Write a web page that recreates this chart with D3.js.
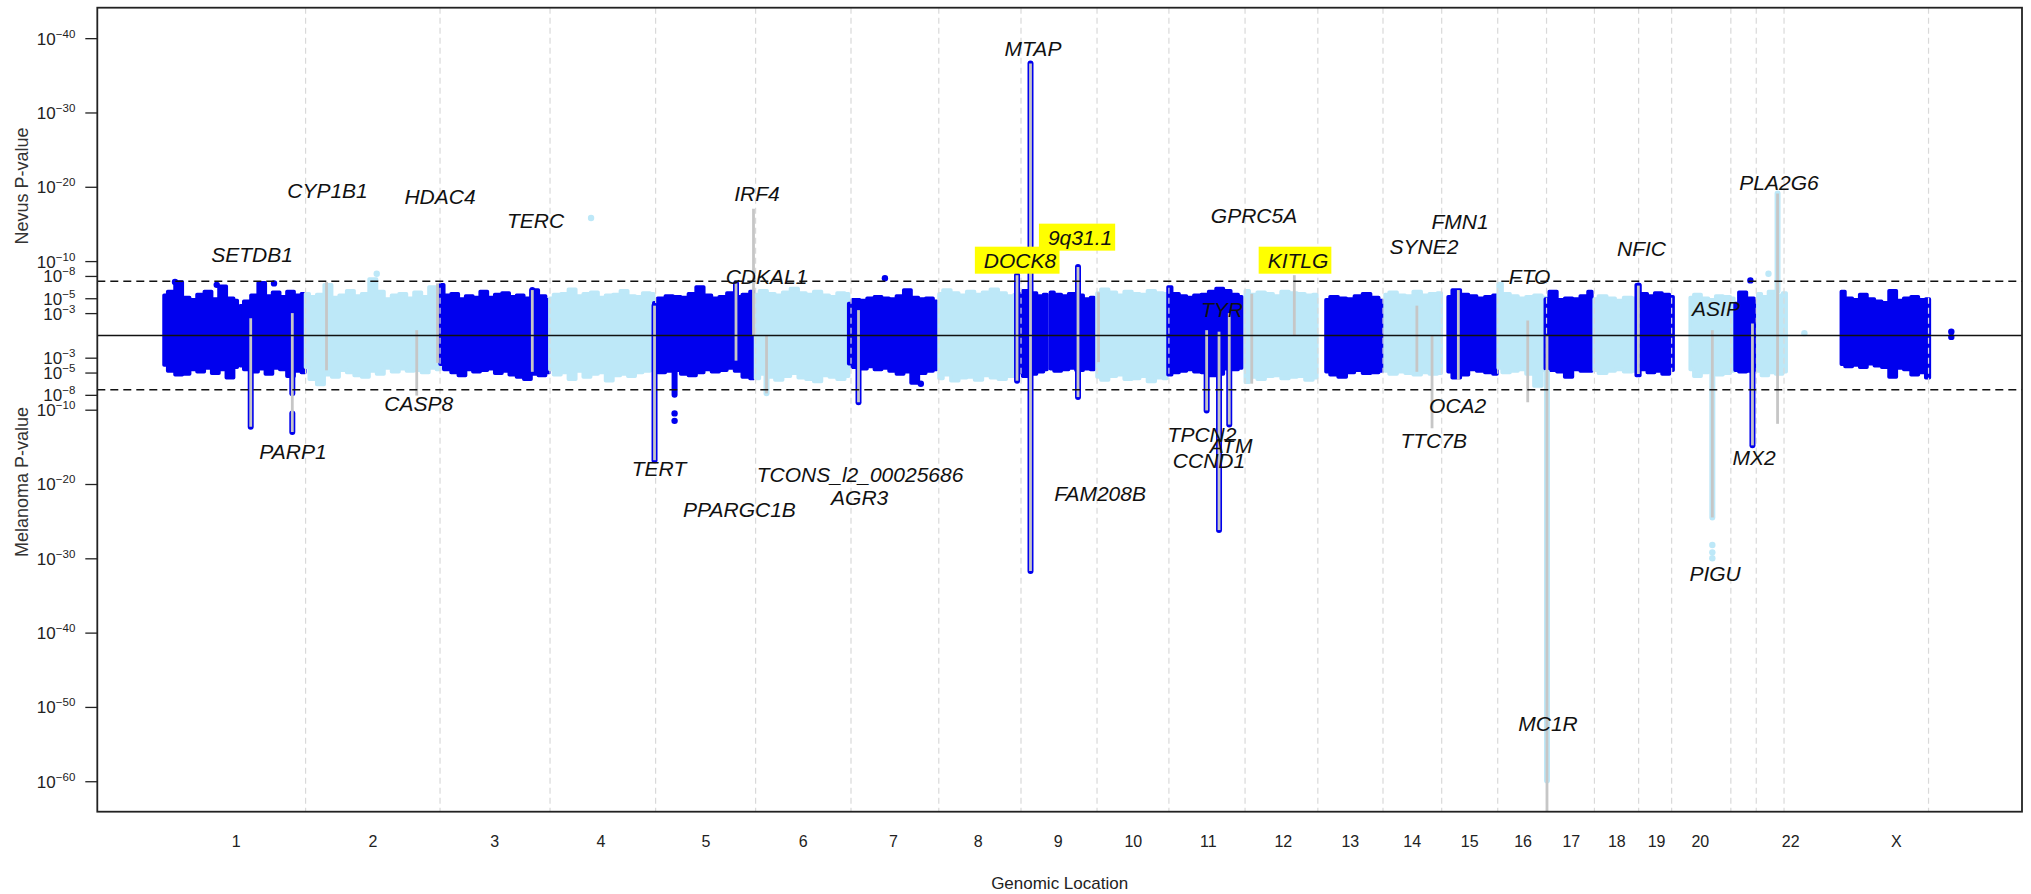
<!DOCTYPE html>
<html>
<head>
<meta charset="utf-8">
<script src="https://cdn.jsdelivr.net/npm/d3@7"></script>
<style>
  html, body { margin: 0; padding: 0; background: #fff; }
  svg { display: block; font-family: "Liberation Sans", Arial, Helvetica, sans-serif; }
</style>
</head>
<body>
<svg id="chart" width="2031" height="894"></svg>
<script>
// ---------------------------------------------------------------------------
// Miami plot: nevus GWAS (upward) against melanoma GWAS (downward).
// Positions are cumulative genomic coordinates (Mb), values are -log10(P);
// melanoma values are stored as negative numbers so they plot below zero.
// ---------------------------------------------------------------------------

// Chromosome axis labels and where they sit
const chromLabels   = ["1","2","3","4","5","6","7","8","9","10","11","12","13","14","15","16","17","18","19","20","22","X"];
const chromLabelPos = [126, 367, 581, 768, 953, 1124, 1283, 1432, 1573, 1705, 1837, 1969, 2087, 2196, 2297, 2391, 2476, 2556, 2626, 2703, 2862, 3048];

// Chromosome boundaries (dashed guides)
const chrBounds = [249.2, 485.8, 679.4, 865.2, 1041.2, 1209.1, 1363.6, 1508.3, 1642.1, 1768.6, 1902.6, 2030.7,
                   2145.4, 2248.7, 2347.3, 2433.2, 2517.5, 2595.3, 2653.4, 2757.6, 2802.3, 2851.2, 3105.5];

// SNP blocks per chromosome (span of genotyped markers)
const blockChr   = ["1","1","2","3","4","5","6","7","8","9","9","10","11","12","13","14","15","16","17","18","19","20","21","22","X"];
const blockStart = [0, 134, 249, 486, 679, 862, 1041, 1205, 1364, 1505, 1560, 1642, 1767, 1903, 2045, 2149, 2260, 2348, 2431, 2517, 2591, 2686, 2765, 2805, 2952];
const blockEnd   = [129, 248, 486, 678, 862, 1038, 1205, 1360, 1503, 1554, 1637, 1765, 1897, 2029, 2145, 2248, 2346, 2432, 2513, 2591, 2656, 2763, 2805, 2855, 3107];

// Upper edge of the background SNP cloud (nevus, -log10 P), evenly spaced across each block
const nevusEdge = [
  [5.4, 5.9, 7.2, 5.1, 4.8, 5.5, 5.9, 4.9, 6.6, 5.0, 4.7],
  [4.0, 4.6, 5.4, 7.1, 5.3, 5.8, 5.2, 5.9, 5.4, 5.6],
  [5.6, 5.2, 5.5, 6.8, 5.1, 5.4, 6.0, 5.3, 5.6, 7.6, 5.9, 4.9, 5.4, 5.6, 5.0, 5.8, 5.2, 6.5, 5.4],
  [6.8, 5.4, 5.6, 4.9, 5.3, 5.1, 5.9, 5.1, 5.5, 5.7, 5.2, 5.4, 5.0, 6.1, 5.3, 4.8],
  [5.0, 5.5, 5.6, 6.2, 5.3, 5.6, 5.8, 5.1, 5.4, 5.5, 6.0, 5.3, 5.2, 5.7, 5.6],
  [4.4, 5.0, 5.3, 5.2, 5.1, 5.6, 6.5, 5.4, 5.0, 5.2, 5.7, 5.2, 5.5, 5.9],
  [5.5, 6.0, 5.6, 5.4, 5.8, 6.3, 5.7, 5.5, 5.9, 5.4, 5.2, 5.7, 5.6],
  [4.3, 4.8, 4.7, 5.0, 5.2, 5.0, 4.9, 5.3, 6.1, 5.1, 4.9, 5.0, 4.6],
  [5.6, 6.1, 5.7, 5.4, 5.9, 5.5, 5.8, 6.2, 5.7, 5.3, 5.5],
  [5.6, 6.0, 5.7, 5.3, 5.5],
  [5.8, 5.5, 5.3, 5.6, 5.4, 4.9, 5.1],
  [5.7, 6.2, 5.8, 5.4, 5.9, 5.6, 5.5, 6.0, 5.7, 5.6],
  [6.5, 5.6, 5.3, 5.1, 5.4, 5.5, 5.9, 6.3, 6.0, 5.5, 5.2],
  [6.0, 5.5, 5.8, 5.6, 5.3, 5.9, 5.7, 5.6, 5.4, 5.5],
  [4.8, 5.2, 5.0, 4.9, 5.3, 5.6, 5.1, 4.7],
  [5.5, 5.8, 5.4, 5.3, 5.9, 5.4, 5.6, 5.7],
  [5.2, 6.1, 5.5, 5.3, 5.0, 5.2, 5.4],
  [7.0, 5.6, 5.3, 5.0, 5.2, 5.4, 5.1],
  [4.9, 5.9, 4.8, 5.0, 4.9, 5.3, 5.9],
  [4.9, 5.3, 5.0, 4.7, 5.1, 5.0],
  [6.8, 5.6, 5.3, 5.7, 5.5, 5.2],
  [5.1, 5.5, 5.0, 4.8, 5.3, 5.2, 5.0],
  [4.3, 5.8, 5.0, 4.6],
  [5.6, 5.2, 5.9, 5.4, 5.7],
  [5.9, 5.0, 4.8, 5.5, 4.9, 4.6, 4.4, 6.0, 4.7, 5.0, 5.2, 4.8, 4.9]
];

// Lower edge of the background SNP cloud (melanoma, -log10 P magnitude)
const melanomaEdge = [
  [4.0, 4.8, 5.3, 5.2, 4.6, 4.9, 4.4, 5.1, 4.6, 5.7, 4.3],
  [4.1, 4.6, 4.9, 4.5, 5.2, 4.4, 4.6, 5.5, 4.8, 5.0],
  [4.3, 5.9, 6.6, 5.3, 5.6, 4.7, 5.0, 5.4, 5.6, 4.8, 5.2, 4.4, 4.9, 4.5, 4.8, 4.7, 5.0, 4.4, 4.6],
  [3.9, 4.6, 5.0, 5.4, 4.6, 4.9, 4.7, 4.5, 5.1, 4.8, 5.3, 5.6, 5.9, 5.2, 5.4, 5.0],
  [4.6, 5.3, 5.0, 5.9, 4.8, 5.6, 5.2, 5.0, 6.1, 5.4, 5.2, 5.5, 5.0, 4.8, 4.7],
  [4.5, 5.0, 4.8, 4.7, 5.2, 5.4, 5.0, 4.6, 4.9, 4.7, 4.4, 4.8, 5.6, 5.8],
  [5.8, 5.2, 5.6, 6.0, 5.5, 5.1, 5.7, 5.9, 6.2, 5.4, 5.6, 5.9, 5.5],
  [3.8, 4.3, 4.5, 4.2, 4.6, 4.4, 4.8, 5.2, 4.9, 6.4, 5.1, 4.8, 4.6],
  [5.8, 5.3, 6.1, 5.7, 5.6, 6.0, 5.4, 5.7, 5.9, 5.5, 5.2],
  [5.0, 5.5, 5.2, 4.9, 4.6],
  [4.5, 4.8, 4.6, 4.4, 4.7, 4.5, 4.6],
  [5.6, 6.0, 5.5, 5.3, 5.9, 5.8, 5.5, 6.2, 5.7, 5.8],
  [5.3, 5.0, 4.8, 4.6, 4.9, 5.0, 5.4, 5.2, 4.5, 4.6, 4.4],
  [6.3, 5.6, 5.9, 5.5, 5.4, 5.8, 5.6, 5.5, 6.0, 5.7],
  [4.9, 5.3, 5.6, 5.0, 4.7, 5.1, 5.0, 4.8],
  [4.8, 5.2, 4.9, 5.1, 5.3, 5.0, 5.2, 5.1],
  [4.9, 5.7, 5.3, 4.6, 4.8, 5.0, 5.2],
  [4.4, 5.0, 4.8, 4.6, 5.2, 6.8, 4.7],
  [4.5, 4.7, 4.9, 5.6, 4.6, 4.8, 4.8],
  [4.7, 5.1, 4.8, 4.6, 4.9, 4.8],
  [5.4, 4.6, 5.0, 4.8, 5.2, 4.7],
  [4.6, 5.5, 5.0, 4.8, 5.3, 5.1, 4.8],
  [4.7, 4.9, 4.8, 4.6],
  [4.8, 5.4, 5.0, 5.2, 4.9],
  [3.9, 4.2, 4.0, 4.3, 3.8, 4.1, 4.3, 5.6, 4.4, 4.6, 5.3, 5.0, 5.7]
];

// Stacks of significant SNPs at associated loci: position, upper and lower extent
const colPos    = [152.6, 225.8, 225.8, 648.2, 863.3, 898.6, 1006.7, 1060.4, 1222.3, 1501.3, 1525, 1608.6, 1835, 1856.8, 1874.8, 2434, 2594.8, 2725, 2795.6, 2839.8];
const colTop    = [2.3, 3.0, -10.5, 6.1, 4.0, -4.5, 7.0, -5.0, 3.4, 8.1, 36.6, 9.2, 0.7, 0.5, 3.0, -5.0, 6.7, -5.0, 1.6, 19.1];
const colBottom = [-12.3, -7.8, -13.0, -4.9, -16.8, -8.0, -3.4, -7.8, -9.0, -6.1, -31.7, -8.3, -10.1, -26.2, -12.0, -59.9, 4.5, -24.5, -14.8, 6.0];
const colShade  = ["dark","dark","dark","dark","dark","dark","dark","light","dark","dark","dark","dark","dark","dark","dark","light","dark","light","dark","light"];

// Grey gene markers: position, best nevus and best melanoma -log10 P
const genePos    = [152.6, 225.8, 286, 444.8, 481.4, 648.2, 863.3, 1006.7, 1037.5, 1060.4, 1222.3, 1501.3, 1525, 1608.6, 1644.7,
                    1835, 1856.8, 1874.8, 1914.4, 1989.3, 2205, 2231.7, 2278, 2400.1, 2434, 2594.8, 2725, 2795.6, 2839.8];
const geneTop    = [2.3, 3.0, 7.2, 0.7, 7.0, 6.1, 4.0, 7.0, 17.05, 0, 3.4, 8.1, 36.6, 9.2, 5.8,
                    0.7, 0.5, 3.0, 5.6, 8.1, 4.0, 0, 6.1, 2.0, 0, 6.7, 0.7, 1.6, 19.1];
const geneBottom = [-12.3, -13.0, -4.7, -8.1, -3.7, -4.9, -16.8, -3.4, 0, -7.8, -9.0, -6.1, -31.7, -8.3, -3.6,
                    -10.1, -26.2, -12.0, -6.5, 0, -4.9, -12.5, -6.0, -9.0, -64.1, -5.2, -24.5, -14.8, -11.9];

// Isolated SNPs outside the background cloud
const dotPos   = [898.6, 898.6, 751.6, 374.4, 1268.8, 1332, 2792, 2823.8, 2887, 3145.6, 3145.6, 2725, 2725, 2725, 19.4, 92.8, 193.6];
const dotVal   = [-10.5, -11.5, 15.8, 8.3, 7.7, -6.5, 7.4, 8.3, 0.3, 0.5, -0.2, -28.2, -29.2, -30.0, 7.2, 6.8, 7.0];
const dotShade = ["dark","dark","light","light","dark","dark","dark","light","light","dark","dark","light","light","light","dark","dark","dark"];

// Locus annotations
const geneLabels = ["MTAP","CYP1B1","HDAC4","SETDB1","TERC","IRF4","CDKAL1","GPRC5A","TYR","SYNE2","FMN1","FTO","NFIC","ASIP","PLA2G6",
                    "DOCK8","9q31.1","KITLG",
                    "PARP1","CASP8","TERT","PPARGC1B","TCONS_l2_00025686","AGR3","FAM208B","TPCN2","ATM","CCND1","OCA2","TTC7B","MX2","PIGU","MC1R"];
const labelPos = [1529.4, 287.8, 485.8, 154.9, 654, 1043.7, 1060.4, 1918.4, 1862.1, 2217.6, 2281, 2403.5, 2600.4, 2731.5, 2842.4,
                  1506.6, 1612.2, 1995.8,
                  227, 448.3, 871.2, 1012.7, 1225, 1224.4, 1647.4, 1826.9, 1877.9, 1839.2, 2276.8, 2234.6, 2798.4, 2729.8, 2435.8];
const labelVal = [38.6, 19.5, 18.7, 10.8, 15.5, 19.1, 7.9, 16.1, 3.4, 11.9, 15.3, 7.9, 11.7, 3.6, 20.5,
                  10.1, 13.2, 10.1,
                  -15.7, -9.2, -17.9, -23.5, -18.7, -21.9, -21.3, -13.4, -14.8, -16.9, -9.4, -14.1, -16.4, -32.0, -52.2];
const highlightedLoci = ["DOCK8", "9q31.1", "KITLG"];

// Axis ticks (signed -log10 P) and genome-wide significance threshold
const yTickValues = [40, 30, 20, 10, 8, 5, 3, -3, -5, -8, -10, -20, -30, -40, -50, -60];
const gwsThreshold = 7.3;

const chromOrder = ["1","2","3","4","5","6","7","8","9","10","11","12","13","14","15","16","17","18","19","20","21","22","X"];

// ---------------------------------------------------------------------------
const DARK = "#0000ee", LIGHT = "#bde8f8", GENE = "#c6c6c6", INK = "#111";
const plot = { left: 97.3, right: 2022, top: 7.7, bottom: 811.7 };

const x = d3.scaleLinear().domain([-117.4, 3270]).range([plot.left, plot.right]);
const y = d3.scaleLinear().domain([-64.1, 44.1]).range([plot.bottom, plot.top]);
const shadeColor = s => (s === "dark" ? DARK : LIGHT);

const svg = d3.select("#chart");

svg.append("defs").append("clipPath").attr("id", "plotClip")
  .append("rect")
  .attr("x", plot.left).attr("y", plot.top)
  .attr("width", plot.right - plot.left).attr("height", plot.bottom - plot.top);

const body = svg.append("g").attr("clip-path", "url(#plotClip)");

// Background SNP clouds
const cloud = d3.area()
  .x(d => x(d.p))
  .y0(d => y(d.lo))
  .y1(d => y(d.hi))
  .curve(d3.curveStep);

blockChr.forEach((c, i) => {
  const n = nevusEdge[i].length;
  const pts = nevusEdge[i].map((v, k) => ({
    p: blockStart[i] + (blockEnd[i] - blockStart[i]) * k / (n - 1),
    hi: v,
    lo: -melanomaEdge[i][k]
  }));
  const col = chromOrder.indexOf(c) % 2 === 0 ? DARK : LIGHT;
  body.append("path")
    .datum(pts)
    .attr("d", cloud)
    .attr("fill", col)
    .attr("stroke", col)
    .attr("stroke-width", 3.5)
    .attr("stroke-linejoin", "round");
});

// Chromosome boundaries
body.selectAll("line.bound")
  .data(chrBounds)
  .join("line")
  .attr("class", "bound")
  .attr("x1", d => x(d)).attr("x2", d => x(d))
  .attr("y1", plot.top).attr("y2", plot.bottom)
  .attr("stroke", "#d9d9d9")
  .attr("stroke-width", 1.2)
  .attr("stroke-dasharray", "6,4");

// Significant SNP stacks
body.selectAll("line.col")
  .data(colPos.map((p, i) => ({ p, a: colTop[i], b: colBottom[i], s: colShade[i] })))
  .join("line")
  .attr("class", "col")
  .attr("x1", d => x(d.p)).attr("x2", d => x(d.p))
  .attr("y1", d => y(d.a)).attr("y2", d => y(d.b))
  .attr("stroke", d => shadeColor(d.s))
  .attr("stroke-width", 6)
  .attr("stroke-linecap", "round");

// Gene marker lines
body.selectAll("line.gene")
  .data(genePos.map((p, i) => ({ p, a: geneTop[i], b: geneBottom[i] })))
  .join("line")
  .attr("class", "gene")
  .attr("x1", d => x(d.p)).attr("x2", d => x(d.p))
  .attr("y1", d => y(d.a)).attr("y2", d => y(d.b))
  .attr("stroke", GENE)
  .attr("stroke-width", 2.8);

// Isolated SNPs
body.selectAll("circle.snp")
  .data(dotPos.map((p, i) => ({ p, v: dotVal[i], s: dotShade[i] })))
  .join("circle")
  .attr("class", "snp")
  .attr("cx", d => x(d.p)).attr("cy", d => y(d.v))
  .attr("r", 3.2)
  .attr("fill", d => shadeColor(d.s));

// Significance thresholds and the zero line
[gwsThreshold, -gwsThreshold].forEach(t => {
  body.append("line")
    .attr("x1", plot.left).attr("x2", plot.right)
    .attr("y1", y(t)).attr("y2", y(t))
    .attr("stroke", "#111").attr("stroke-width", 1.5)
    .attr("stroke-dasharray", "8,5");
});
body.append("line")
  .attr("x1", plot.left).attr("x2", plot.right)
  .attr("y1", y(0)).attr("y2", y(0))
  .attr("stroke", "#111").attr("stroke-width", 1.5);

// Plot frame
svg.append("rect")
  .attr("x", plot.left).attr("y", plot.top)
  .attr("width", plot.right - plot.left).attr("height", plot.bottom - plot.top)
  .attr("fill", "none").attr("stroke", "#222").attr("stroke-width", 1.8);

// Y axis with 10^-k labels
const yAxis = d3.axisLeft(y).tickValues(yTickValues).tickSize(12).tickFormat(() => "");
const gy = svg.append("g").attr("transform", `translate(${plot.left},0)`).call(yAxis);
gy.select(".domain").remove();
gy.attr("font-family", null).attr("font-size", null);
gy.selectAll(".tick line").attr("stroke", "#222").attr("stroke-width", 1.3);
gy.selectAll(".tick text").each(function (d) {
  const t = d3.select(this);
  t.text(null)
    .attr("x", -22).attr("dy", "0.35em")
    .attr("text-anchor", "end")
    .attr("fill", "#222")
    .attr("font-size", 17);
  t.append("tspan").text("10");
  t.append("tspan").attr("font-size", 11.5).attr("dy", -7).text("\u2212" + Math.abs(d));
});

// X axis: chromosome names
const xAxis = d3.axisBottom(x).tickValues(chromLabelPos).tickSize(0).tickFormat((d, i) => chromLabels[i]);
const gx = svg.append("g").attr("transform", `translate(0,${plot.bottom})`).call(xAxis);
gx.select(".domain").remove();
gx.attr("font-family", null).attr("font-size", null);
gx.selectAll(".tick text")
  .attr("y", 30).attr("dy", "0.35em")
  .attr("fill", "#222")
  .attr("font-size", 16);

// Axis titles
svg.append("text")
  .attr("x", (plot.left + plot.right) / 2).attr("y", 883).attr("dy", "0.35em")
  .attr("text-anchor", "middle").attr("font-size", 17).attr("fill", "#222")
  .text("Genomic Location");
svg.append("text")
  .attr("transform", "translate(22,186) rotate(-90)")
  .attr("text-anchor", "middle").attr("dy", "0.35em")
  .attr("font-size", 18).attr("fill", "#333")
  .text("Nevus P-value");
svg.append("text")
  .attr("transform", "translate(22,482) rotate(-90)")
  .attr("text-anchor", "middle").attr("dy", "0.35em")
  .attr("font-size", 18).attr("fill", "#333")
  .text("Melanoma P-value");

// Locus labels (highlighted ones get a yellow box)
const labelData = geneLabels.map((g, i) => ({ g, p: labelPos[i], v: labelVal[i] }));
const boxLayer = svg.append("g");
const textLayer = svg.append("g");
textLayer.selectAll("text")
  .data(labelData)
  .join("text")
  .attr("x", d => x(d.p)).attr("y", d => y(d.v)).attr("dy", "0.35em")
  .attr("text-anchor", "middle")
  .attr("font-style", "italic")
  .attr("font-size", 21)
  .attr("fill", INK)
  .text(d => d.g)
  .each(function (d) {
    if (!highlightedLoci.includes(d.g)) return;
    const b = this.getBBox();
    boxLayer.append("rect")
      .attr("x", b.x - 9).attr("y", b.y - 2)
      .attr("width", b.width + 12).attr("height", b.height + 4)
      .attr("fill", "#ffff00");
  });
</script>
</body>
</html>
